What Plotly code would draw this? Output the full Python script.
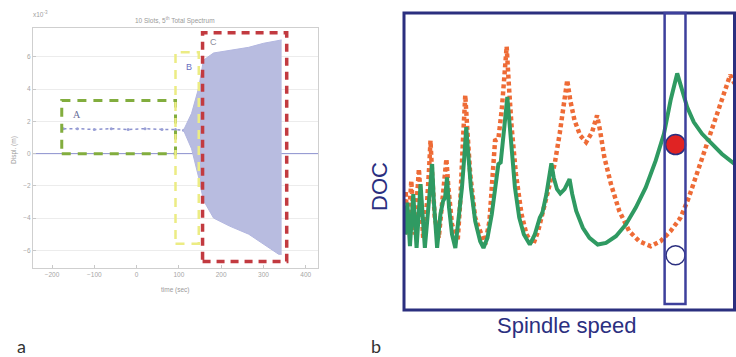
import plotly.graph_objects as go

# ---------------- Panel a (time signal) ----------------
a_xticks = [-200, -100, 0, 100, 200, 300, 400]
a_yticks = [-6, -4, -2, 0, 2, 4, 6]
zero_x = [-245, 429]
zero_y = [0, 0]
stable_x = [-173, -140, -100, -60, -20, 20, 60, 92, 111]
stable_y = [1.55, 1.55, 1.5, 1.55, 1.5, 1.55, 1.5, 1.5, 1.45]
env_x = [111, 130, 147, 158, 182, 220, 265, 300, 336, 343]
env_upper = [1.45, 2.5, 4.1, 5.8, 6.25, 6.4, 6.6, 6.85, 7.06, 7.06]
env_lower = [1.45, 0.3, -1.5, -2.9, -4.0, -4.5, -5.0, -5.6, -6.25, -6.25]

# ---------------- Panel b (stability lobes) ----------------
green_x = [0.3, 1, 1.8, 2.8, 3.8, 5, 6.3, 7.5, 8.5, 9, 9.5, 10, 11, 11.8, 12.4, 13, 13.6, 14.5, 15.5,
           16.5, 17.5, 18.2, 18.8, 19.4, 20.2, 21.5, 23, 24, 25.2, 26.5, 27.8, 28.5, 29.2, 30, 30.6,
           31.2, 31.8, 32.5, 33.5, 34.8, 36.2, 38, 39.5, 41, 41.8, 43, 44, 44.5, 45.2, 46.2, 47.2,
           48.5, 50, 50.8, 52, 54, 56, 58.5, 61, 64, 67, 70, 73, 76, 78.5, 80.5, 82.5, 84, 85.5,
           87.5, 90, 93, 96, 99.8]
green_y = [22.5, 32, 19, 34.5, 18.5, 37.5, 18.5, 32.5, 43.5, 32.5, 22.5, 18.5, 28.5, 32.5, 33.5, 39.5,
           30.5, 22.5, 18.5, 26.5, 36.5, 45.5, 54.5, 46.5, 36.5, 26.5, 20.5, 18.5, 21.5, 28.5, 38.5,
           43.5, 44, 50.5, 57.5, 63.5, 56.5, 47.5, 36.5, 27.5, 22.5, 19.5, 22.5, 27.5, 29, 34.5, 40.5,
           43.7, 39.5, 36, 34.7, 36, 39, 34.5, 29.5, 24.5, 21.5, 19.5, 20, 22, 25.5, 30.5, 36.5, 44.5,
           52.5, 62.5, 70.5, 65.5, 60.5, 56, 52.5, 49.5, 46.5, 43.5]
orange_x = [0, 0.5, 1.2, 2.2, 3.2, 4.5, 5.8, 7, 7.6, 8, 8.5, 9.3, 10.5, 11.5, 12.2, 12.8, 13.4, 14.5,
            16.2, 17, 17.8, 18.5, 19.2, 20, 21.5, 24.5, 25.8, 26.8, 27.5, 28.5, 29.5, 30.3, 31, 31.7,
            32.5, 33.8, 35.5, 37, 39, 40.5, 42, 44, 45.5, 47, 48.2, 49.3, 50.2, 51.5, 53.2, 55, 56.8,
            58.3, 59.2, 60.5, 62.5, 65, 68, 71, 74.5, 77.5, 80.5, 83.5, 86, 89, 92, 95, 97.5, 98.5, 99.8]
orange_y = [23.5, 35.5, 22.5, 38.5, 22.5, 42, 21.5, 32.5, 42.5, 50.5, 40.5, 27.5, 21.5, 31.5, 39.5, 45,
            36.5, 25.5, 20.5, 32.5, 50.5, 64, 52.5, 40.5, 27.5, 19.5, 26.5, 40.5, 50.5, 51, 59.5, 69.5,
            78.5, 66.5, 54.5, 40.5, 28.5, 22.5, 19.5, 23.5, 29.5, 36.5, 43.5, 52.5, 60.5, 68.5, 62.5,
            56.5, 52, 50, 53, 58, 53.5, 45.5, 37.5, 29.5, 23.5, 20.5, 19, 20.5, 23.5, 27.5, 33.5, 42.5,
            50.5, 60.5, 67.5, 70, 67.5]
test_speed = [82, 82]
test_doc = [49.3, 16.3]

NAVY = "#2b2f7f"
fig = go.Figure()

# panel a traces
fig.add_trace(go.Scatter(x=zero_x, y=zero_y, mode="lines", line=dict(color="#8c92cf", width=1),
                         xaxis="x", yaxis="y", hoverinfo="skip"))
fig.add_trace(go.Scatter(x=stable_x, y=stable_y, mode="lines+markers",
                         line=dict(color="#8c92cf", width=1.5, dash="dot"),
                         marker=dict(size=3, color="#9aa0d6"), xaxis="x", yaxis="y"))
fig.add_trace(go.Scatter(x=env_x, y=env_lower, mode="lines", line=dict(color="#b3b7e0", width=1),
                         xaxis="x", yaxis="y"))
fig.add_trace(go.Scatter(x=env_x, y=env_upper, mode="lines", line=dict(color="#b3b7e0", width=1),
                         fill="tonexty", fillcolor="#b8bce0", xaxis="x", yaxis="y"))

# panel b traces
fig.add_trace(go.Scatter(x=orange_x, y=orange_y, mode="lines",
                         line=dict(color="#ee6b36", width=4.5, dash="4px,3px"),
                         xaxis="x2", yaxis="y2"))
fig.add_trace(go.Scatter(x=green_x, y=green_y, mode="lines",
                         line=dict(color="#2f9a62", width=4),
                         xaxis="x2", yaxis="y2"))
fig.add_trace(go.Scatter(x=test_speed, y=test_doc, mode="markers",
                         marker=dict(size=[20, 19], color=["#e02323", "#ffffff"], opacity=1,
                                     line=dict(color=NAVY, width=1.5)),
                         xaxis="x2", yaxis="y2"))

shapes = [
    # panel a boxes
    dict(type="rect", xref="x", yref="y", x0=-177, x1=92, y0=0, y1=3.3,
         line=dict(color="#82ad3e", width=3, dash="9px,7px")),
    dict(type="rect", xref="x", yref="y", x0=92, x1=147, y0=-5.6, y1=6.3,
         line=dict(color="#ecec84", width=2.5, dash="9px,7px")),
    dict(type="rect", xref="x", yref="y", x0=156, x1=355, y0=-6.7, y1=7.5,
         line=dict(color="#c23a40", width=3.5, dash="8px,6px")),
    # panel b frame and test window
    dict(type="rect", xref="x2 domain", yref="y2 domain", x0=0, x1=1, y0=0, y1=1,
         line=dict(color=NAVY, width=3)),
    dict(type="rect", xref="x2", yref="y2 domain", x0=78.7, x1=85, y0=0.02, y1=1,
         line=dict(color="#3d409c", width=2.5)),
]

W, H = 736, 357


def px(x, y):
    return x / W, 1 - y / H


annotations = [
    dict(text="A", x=-142, y=2.4, xref="x", yref="y", showarrow=False,
         font=dict(size=10, color="#6a6f9a", family="Liberation Serif")),
    dict(text="B", x=123, y=5.4, xref="x", yref="y", showarrow=False,
         font=dict(size=9, color="#6a6fc0", family="Liberation Sans")),
    dict(text="C", x=182, y=6.9, xref="x", yref="y", showarrow=False,
         font=dict(size=9, color="#8a8a9a", family="Liberation Sans")),
]
paper_texts = [
    ("10 Slots, 5<sup>th</sup> Total Spectrum", 175, 20, 0, 6.5, "#9a9a9a", "Liberation Sans"),
    ("x10<sup>-3</sup>", 40, 14, 0, 6.5, "#a0a0a0", "Liberation Sans"),
    ("Displ. (m)", 14, 150, -90, 6.5, "#9a9a9a", "Liberation Sans"),
    ("time (sec)", 175, 290, 0, 6.5, "#9a9a9a", "Liberation Sans"),
    ("DOC", 379, 187, -90, 22, NAVY, "Liberation Sans"),
    ("Spindle speed", 566, 325, 0, 22, NAVY, "Liberation Sans"),
    ("a", 21, 346, 0, 18, "#333333", "Lato"),
    ("b", 376, 346, 0, 18, "#333333", "Lato"),
]
for t, x, y, ang, sz, col, fam in paper_texts:
    xx, yy = px(x, y)
    annotations.append(dict(text=t, x=xx, y=yy, xref="paper", yref="paper", textangle=ang,
                            xanchor="center", yanchor="middle",
                            showarrow=False, font=dict(size=sz, color=col, family=fam)))

fig.update_layout(
    width=W, height=H, margin=dict(l=0, r=0, t=0, b=0),
    paper_bgcolor="white", plot_bgcolor="white", showlegend=False,
    font=dict(family="Liberation Sans"),
    xaxis=dict(domain=[33 / W, 318 / W], range=[-245, 429], tickvals=a_xticks,
               ticks="inside", ticklen=3, tickcolor="#c8c8c8", showgrid=False, zeroline=False,
               showline=True, mirror=True, linecolor="#cfcfcf", linewidth=1,
               tickfont=dict(size=6.5, color="#a6a6a6")),
    yaxis=dict(domain=[1 - 268 / H, 1 - 28 / H], range=[-7.1, 7.8], tickvals=a_yticks,
               ticks="inside", ticklen=3, tickcolor="#c8c8c8", showgrid=True, gridcolor="#ececec",
               zeroline=False, showline=True, mirror=True, linecolor="#cfcfcf", linewidth=1,
               tickfont=dict(size=6.5, color="#a6a6a6")),
    xaxis2=dict(domain=[404 / W, 734.5 / W], range=[0, 99.8], visible=False),
    yaxis2=dict(domain=[1 - 310 / H, 1 - 13 / H], range=[0, 88.5], visible=False),
    shapes=shapes, annotations=annotations,
)

fig.write_html("out.html", config={"displayModeBar": False},
               post_script="document.body.style.margin='0';document.body.style.overflow='hidden';")
